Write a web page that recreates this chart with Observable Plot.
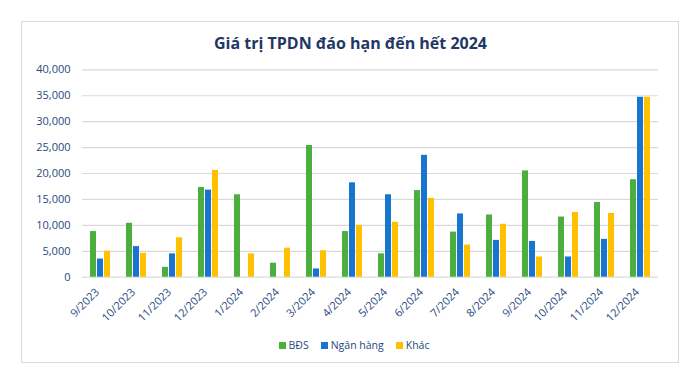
<!DOCTYPE html>
<html><head><meta charset="utf-8">
<script src="https://cdn.jsdelivr.net/npm/d3@7"></script>
<script src="https://cdn.jsdelivr.net/npm/@observablehq/plot@0.6"></script>
<style>
body{margin:0;background:#fff;width:696px;height:369px;position:relative;overflow:hidden;font-family:"Open Sans",sans-serif;}
#frame{position:absolute;left:21px;top:21px;width:658px;height:342px;border:1px solid #d9d9d9;box-sizing:border-box;}
#title{position:absolute;left:0;top:33px;width:701px;text-align:center;font-weight:700;font-size:16px;line-height:20px;color:#1f3864;white-space:nowrap;}
#chart{position:absolute;left:0;top:60px;}
#legend{position:absolute;left:0;top:338px;width:708px;display:flex;justify-content:center;font-size:10.5px;line-height:14px;color:#1f497d;}
#legend span.item{display:inline-flex;align-items:center;margin:0 6px;}
#legend span.sw{display:inline-block;width:7px;height:7px;margin-right:3px;}
</style>
</head><body>
<div id="frame"></div>
<div id="title">Giá trị TPDN đáo hạn đến hết 2024</div>
<div id="chart"></div>
<div id="legend"></div>
<script>
const months = ["9/2023","10/2023","11/2023","12/2023","1/2024","2/2024","3/2024","4/2024","5/2024","6/2024","7/2024","8/2024","9/2024","10/2024","11/2024","12/2024"];
const series = ["BĐS","Ngân hàng","Khác"];
const colors = ["#4bae3f","#1875cd","#ffc000"];
const bds      = [8800,10400,1900,17300,15900,2700,25400,8800,4500,16700,8700,12000,20500,11600,14400,18800];
const nganHang = [3500,5900,4500,16800,0,0,1600,18200,15900,23500,12200,7100,6900,3900,7300,34700];
const khac     = [5000,4600,7600,20600,4500,5600,5100,10000,10600,15200,6200,10200,3900,12500,12300,34700];
const yTicks = [0,5000,10000,15000,20000,25000,30000,35000,40000];

const valuesBySeries = [bds, nganHang, khac];
const data = months.flatMap((m, i) => series.map((s, j) => ({month: m, series: s, value: valuesBySeries[j][i]})));

const plot = Plot.plot({
  width: 696, height: 265,
  marginLeft: 75, marginRight: 32, marginTop: 9.3, marginBottom: 48.3,
  style: {fontFamily: '"Open Sans", sans-serif', fontSize: "11px", color: "#1f497d", background: "transparent", overflow: "visible"},
  fx: {domain: months, padding: 0, label: null, axis: null},
  x: {domain: series, axis: null, paddingInner: 0.19, paddingOuter: 0.895},
  y: {domain: [0, 40000], ticks: yTicks, tickFormat: d3.format(","), tickSize: 0, tickPadding: 12, label: null},
  color: {domain: series, range: colors},
  marks: [
    Plot.ruleY(yTicks, {stroke: "#d9d9d9", strokeWidth: 1.2}),
    Plot.barY(data, {fx: "month", x: "series", y: "value", fill: "series"}),
    Plot.axisFx({anchor: "bottom", label: null, tickRotate: -45, tickSize: 0, tickPadding: 13, dx: -3})
  ]
});
document.getElementById("chart").appendChild(plot);

const legend = document.getElementById("legend");
series.forEach((s, i) => {
  const item = document.createElement("span");
  item.className = "item";
  const sw = document.createElement("span");
  sw.className = "sw";
  sw.style.background = colors[i];
  item.appendChild(sw);
  item.appendChild(document.createTextNode(s));
  legend.appendChild(item);
});
</script>
</body></html>
